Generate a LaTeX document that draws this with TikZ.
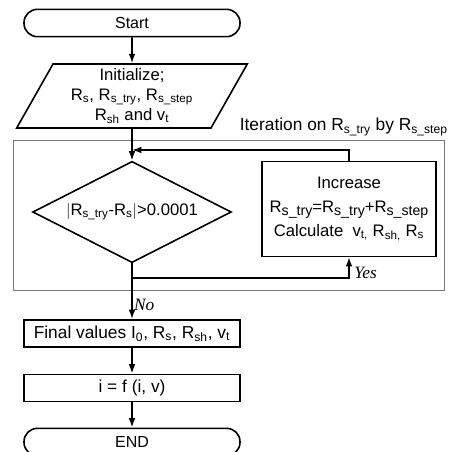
\documentclass[tikz,border=0pt]{standalone}
\usepackage{fontspec}
\setmainfont{Liberation Sans}
\newfontfamily\yesnofont{Liberation Serif}
\usepackage{graphicx}
\usepackage{tikz}
\usetikzlibrary{shapes.geometric, arrows.meta, positioning, calc}
\definecolor{mydark}{RGB}{0,0,0}
\definecolor{framegray}{RGB}{120,120,120}
\newcommand{\sbs}[1]{\textsubscript{#1}}
\newcommand{\sbb}[1]{\raisebox{-0.3ex}{\scalebox{0.85}{#1}}}
\tikzset{
  terminal/.style={rectangle, draw=mydark, rounded corners=10pt,
    minimum width=162pt, minimum height=20.5pt, inner sep=0pt,
    font=\fontsize{12}{14}\selectfont, line width=1.2pt},
  iobox/.style={trapezium, draw=mydark, trapezium left angle=63,
    trapezium right angle=117, trapezium stretches=true,
    minimum width=173pt, minimum height=48pt, align=center, inner sep=0pt,
    font=\fontsize{12.5}{15}\selectfont, line width=1.2pt},
  decision/.style={diamond, draw=mydark, minimum width=149pt,
    minimum height=76pt, inner sep=0pt, aspect=2,
    font=\fontsize{12.5}{14}\selectfont, line width=1.2pt},
  procbox/.style={rectangle, draw=mydark, align=center, inner sep=0pt,
    minimum width=162pt, minimum height=20.5pt,
    font=\fontsize{13}{15}\selectfont, line width=1.2pt},
  bigbox/.style={procbox, minimum width=130.5pt, minimum height=71pt,
    font=\fontsize{12.5}{18}\selectfont},
  frame/.style={draw=framegray, line width=0.5pt},
  arrow/.style={-{Latex[length=7pt, width=5pt]}, line width=1.2pt, color=mydark},
  line/.style={line width=1.2pt, color=mydark},
  answer/.style={font=\yesnofont\itshape\fontsize{13}{14}\selectfont}
}
\begin{document}
\begin{tikzpicture}[x=0.75pt, y=-0.75pt]
  \useasboundingbox (0,0) rectangle (449,452);

  % Start and initialisation
  \node[terminal] (start) at (132,23) {Start};
  \node[iobox] (init) at (132,96) {Initialize;\\
    R\sbs{s}, R\sbs{s\_try}, R\sbs{s\_step}\\
    R\sbs{sh} and v\sbs{t}};

  % Iteration frame
  \draw[frame] (13,140) rectangle (444,290);
  \node[anchor=south east, inner sep=0pt, font=\fontsize{13}{15}\selectfont]
    (iterlabel) at (448,136) {Iteration on R\sbs{s\_try} by R\sbs{s\_step}};

  % Test and update
  \node[decision] (test) at (132,212) {$|$R\sbs{s\_try}-R\sbs{s}$|$>0.0001};
  \node[bigbox] (incr) at (349,209) {Increase\\
    R\sbb{s\_try}=R\sbb{s\_try}+R\sbb{s\_step}\\
    Calculate\ \ v\sbs{t,} R\sbs{sh,} R\sbs{s}};

  % Results and end
  \node[procbox] (final) at (132,333.5) {Final values I\sbs{0}, R\sbs{s}, R\sbs{sh}, v\sbs{t}};
  \node[procbox] (func) at (132,388) {i = f (i, v)};
  \node[terminal] (stop) at (132,442) {END};

  % Junction points
  \coordinate (loopin) at (132,150);
  \coordinate (split) at (132,278);

  % Connectors
  \draw[arrow] (start) -- (init);
  \draw[arrow] (init.south) -- (test.north);
  \draw[arrow] (incr.north) |- (loopin);
  \draw[line] (test.south) -- (split);
  \draw[arrow] (split) -| (incr.south) node[pos=0.62, right, answer] {Yes};
  \draw[arrow] (split) -- (final.north) node[pos=0.65, right, answer, inner sep=1pt] {No};
  \draw[arrow] (final) -- (func);
  \draw[arrow] (func) -- (stop);
\end{tikzpicture}
\end{document}
